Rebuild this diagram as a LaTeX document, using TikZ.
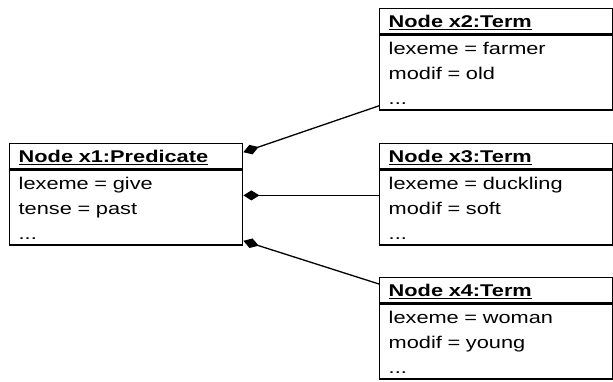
\documentclass[tikz,border=0pt]{standalone}
\usepackage{fontspec}
\setmainfont{Liberation Sans}[FakeStretch=1.28]
\usetikzlibrary{arrows.meta}

\newcommand{\boxfont}{\fontsize{17}{25}\selectfont}

\begin{document}
\begin{tikzpicture}[x=1pt, y=-1pt,
   head/.style={draw, line width=1.4pt, anchor=north west, inner xsep=9pt, inner ysep=0pt,
     text width=215pt, align=left, font=\boxfont\bfseries, text height=19pt, text depth=6pt},
   body/.style={head, font=\boxfont, text depth=56pt},
   agg/.style={{Diamond[length=16pt,width=10pt]}-, line width=1.3pt}]
   \useasboundingbox (0,0) rectangle (613,381);
   % predicate
   \node[head] (x1h) at (9,143) {\underline{Node x1:Predicate}};
   \node[body] (x1b) at (x1h.south west) {lexeme = give\\tense = past\\...};
   % terms
   \node[head] (x2h) at (379,8) {\underline{Node x2:Term}};
   \node[body] (x2b) at (x2h.south west) {lexeme = farmer\\modif = old\\...};
   \node[head] (x3h) at (379,143) {\underline{Node x3:Term}};
   \node[body] (x3b) at (x3h.south west) {lexeme = duckling\\modif = soft\\...};
   \node[head] (x4h) at (379,277) {\underline{Node x4:Term}};
   \node[body] (x4b) at (x4h.south west) {lexeme = woman\\modif = young\\...};
   % links
   \draw[agg] ([yshift=4pt]x1h.east) -- ([yshift=5pt]x2b.south west);
   \draw[agg] ([yshift=-26pt]x1b.north east) -- ([yshift=-26pt]x3b.north west);
   \draw[agg] ([yshift=5pt]x1b.south east) -- ([yshift=-7pt]x4h.north west);
\end{tikzpicture}
\end{document}
